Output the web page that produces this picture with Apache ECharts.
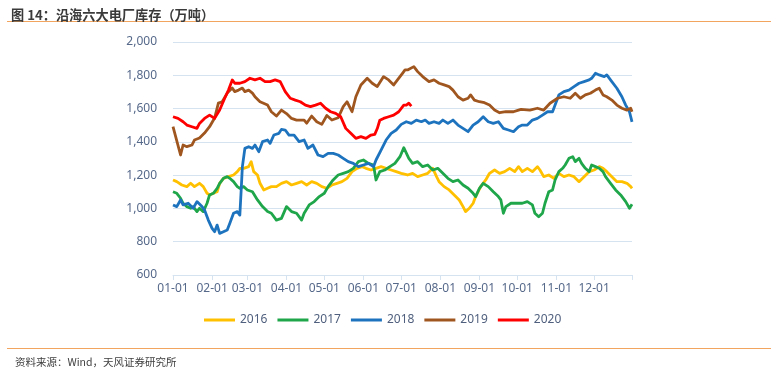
<!DOCTYPE html>
<html>
<head>
<meta charset="utf-8">
<script src="https://cdn.jsdelivr.net/npm/echarts@6/dist/echarts.min.js"></script>
<style>html,body{margin:0;padding:0;background:#fff;}#c{width:777px;height:371px;}</style>
</head>
<body>
<div id="c"></div>
<script>
// Y tick labels
const yTicks = [600, 800, 1000, 1200, 1400, 1600, 1800, 2000];
const years = ['2016', '2017', '2018', '2019', '2020'];

// day-of-year index (0 = 01-01) and value for each series
const days2016 = [0,3,7,11,14,17,21,24,27,29,32,35,37,40,44,48,51,53,56,60,62,64,67,69,72,75,78,82,86,90,94,98,102,106,110,114,118,122,126,130,134,138,142,146,150,153,157,161,165,169,173,177,181,186,190,194,198,202,206,209,211,215,219,223,227,230,232,235,238,240,244,248,251,255,259,263,267,271,274,277,281,285,289,291,294,298,302,306,310,314,318,322,326,330,334,338,341,344,348,352,356,360,363,364];
const vals2016 = [1171,1161,1141,1131,1151,1131,1151,1131,1091,1081,1091,1100,1151,1181,1191,1201,1221,1241,1241,1251,1281,1221,1201,1151,1111,1121,1131,1131,1151,1161,1141,1151,1161,1141,1161,1151,1131,1121,1141,1151,1161,1181,1221,1241,1251,1241,1231,1241,1251,1241,1231,1221,1211,1201,1211,1191,1201,1211,1241,1191,1161,1131,1111,1081,1051,1011,981,1001,1031,1071,1131,1171,1211,1231,1211,1221,1241,1221,1251,1221,1241,1221,1251,1231,1191,1201,1181,1211,1191,1201,1191,1161,1191,1221,1231,1251,1241,1221,1191,1161,1161,1151,1131,1121];

const days2017 = [0,3,6,8,11,14,16,19,21,24,27,29,32,35,37,40,43,45,48,51,53,56,59,63,67,71,75,78,82,86,90,94,98,102,104,108,112,116,120,123,127,131,135,139,143,147,151,155,159,161,164,168,172,176,180,183,187,190,194,198,202,206,210,214,218,222,226,230,234,238,240,243,246,250,254,258,260,262,264,268,272,277,281,285,287,290,293,295,298,301,303,306,309,311,314,317,319,322,324,327,330,332,335,338,341,343,347,351,355,359,362,364];
const vals2017 = [1100,1091,1061,1031,1011,1001,1011,981,1001,981,1031,1081,1091,1121,1151,1181,1191,1181,1161,1131,1121,1131,1111,1100,1051,1011,981,971,930,940,1011,981,971,930,971,1021,1041,1071,1091,1131,1171,1201,1211,1221,1241,1281,1291,1271,1261,1171,1221,1231,1251,1271,1311,1365,1301,1271,1281,1251,1261,1231,1241,1211,1181,1161,1171,1141,1121,1091,1071,1121,1151,1131,1100,1071,1051,971,1011,1031,1031,1031,1041,1021,971,950,971,1031,1100,1111,1171,1221,1241,1261,1301,1311,1281,1301,1271,1241,1221,1261,1251,1241,1221,1191,1151,1111,1081,1041,1001,1025];

const days2018 = [0,3,6,8,12,16,19,23,25,28,31,33,35,37,40,43,45,48,51,53,54,55,57,60,63,65,68,71,75,77,80,84,86,89,92,96,100,104,107,111,115,119,123,127,131,135,139,143,147,151,155,159,161,165,169,173,177,181,185,189,193,197,200,203,207,211,214,218,222,226,230,234,238,242,246,250,254,258,262,266,270,274,277,281,285,289,293,297,301,303,306,310,314,318,322,326,330,332,335,338,342,344,348,352,356,359,362,364];
const vals2018 = [1021,1011,1051,1021,1031,1001,1041,1011,991,930,880,860,900,850,860,870,910,971,981,960,1100,1250,1361,1371,1361,1381,1341,1401,1411,1391,1441,1451,1475,1471,1440,1441,1401,1411,1361,1381,1321,1311,1331,1331,1321,1301,1281,1271,1251,1261,1271,1251,1291,1351,1411,1451,1471,1505,1521,1511,1531,1521,1531,1511,1521,1511,1531,1511,1531,1501,1481,1461,1501,1521,1551,1521,1511,1521,1481,1471,1461,1491,1501,1501,1531,1541,1561,1581,1581,1621,1682,1702,1711,1732,1752,1762,1772,1782,1812,1802,1792,1802,1762,1722,1671,1621,1581,1520];

const days2019 = [0,6,8,11,15,17,21,25,29,33,36,39,43,47,49,52,55,57,60,63,65,69,75,78,82,86,90,94,98,104,106,110,114,118,122,126,131,135,138,142,145,149,154,158,162,167,171,175,180,182,184,186,191,194,198,203,207,211,215,219,222,226,230,234,236,239,243,247,251,255,259,264,270,274,276,283,289,294,299,305,310,315,319,323,327,331,335,338,341,344,348,352,356,360,363,364];
const vals2019 = [1491,1321,1381,1371,1381,1411,1423,1453,1491,1543,1633,1641,1693,1723,1702,1711,1723,1702,1711,1693,1671,1641,1621,1581,1555,1591,1570,1541,1531,1531,1512,1555,1521,1505,1558,1531,1545,1612,1641,1581,1671,1742,1782,1752,1732,1792,1772,1742,1792,1812,1832,1832,1852,1822,1792,1762,1772,1752,1742,1732,1711,1671,1651,1662,1682,1651,1641,1635,1621,1591,1575,1581,1581,1591,1595,1591,1602,1591,1632,1662,1671,1662,1692,1662,1682,1692,1711,1722,1682,1671,1651,1621,1602,1591,1602,1581];

const days2020 = [0,4,8,11,15,19,21,25,29,33,37,41,44,47,49,53,57,61,65,69,73,77,81,85,89,93,97,101,105,109,113,117,121,125,129,133,137,141,145,149,153,157,160,162,164,167,171,175,179,183,185,187,189];
const vals2020 = [1551,1541,1521,1501,1491,1481,1511,1541,1561,1541,1591,1662,1711,1772,1752,1752,1762,1782,1772,1782,1762,1762,1772,1762,1702,1662,1651,1641,1621,1612,1621,1632,1602,1581,1571,1551,1481,1451,1421,1431,1421,1441,1445,1480,1530,1541,1551,1561,1581,1621,1621,1632,1615];

const colors = ['#FFC000', '#1FA64A', '#1E73BE', '#A0561F', '#FF0000'];

// category axis: every day of a (non-leap) year as MM-DD
const categories = [];
(function () {
  const lens = [31,28,31,30,31,30,31,31,30,31,30,31];
  for (let m = 0; m < 12; m++) {
    for (let d = 1; d <= lens[m]; d++) {
      categories.push(String(m + 1).padStart(2, '0') + '-' + String(d).padStart(2, '0'));
    }
  }
})();

function pairs(ds, vs) { return ds.map((d, i) => [d, vs[i]]); }
const seriesData = [
  pairs(days2016, vals2016),
  pairs(days2017, vals2017),
  pairs(days2018, vals2018),
  pairs(days2019, vals2019),
  pairs(days2020, vals2020)
];

const chart = echarts.init(document.getElementById('c'), null, { renderer: 'canvas' });
const axisColor = '#D5E3F0';
const labelColor = '#56698A';
const font = '"Noto Sans", "Noto Sans CJK SC", sans-serif';

chart.setOption({
  animation: false,
  backgroundColor: '#fff',
  textStyle: { fontFamily: font },
  title: {
    text: '图 14：沿海六大电厂库存（万吨）',
    left: 6, top: 3,
    textStyle: { fontSize: 13.2, fontWeight: 'bold', color: '#3A3A3A', fontFamily: '"Noto Sans CJK SC", sans-serif' }
  },
  graphic: [
    { type: 'line', shape: { x1: 7, y1: 21.5, x2: 771, y2: 21.5 }, style: { stroke: '#F2A55F', lineWidth: 1.2 } },
    { type: 'line', shape: { x1: 7, y1: 348.5, x2: 771, y2: 348.5 }, style: { stroke: '#F2A55F', lineWidth: 1.2 } },
    { type: 'text', left: 15, top: 357, style: { text: '资料来源：Wind，天风证券研究所', fontSize: 10.5, fill: '#404040', fontFamily: '"Noto Sans CJK SC", sans-serif' } }
  ],
  grid: { left: 173, right: 145, top: 42, bottom: 96, containLabel: false },
  legend: {
    data: years,
    left: 204, top: 314,
    padding: 0,
    itemWidth: 31, itemHeight: 3, itemGap: 10,
    icon: 'rect',
    textStyle: { fontSize: 12, color: '#4F5F7D', fontFamily: font }
  },
  xAxis: {
    type: 'category',
    data: categories,
    boundaryGap: false,
    axisLine: { show: true, lineStyle: { color: axisColor, width: 1 } },
    axisTick: {
      show: true, length: 5,
      interval: (i, v) => v.endsWith('-01') || i === categories.length - 1,
      lineStyle: { color: axisColor }
    },
    axisLabel: {
      interval: (i, v) => v.endsWith('-01'),
      color: labelColor, fontSize: 12, margin: 8, fontFamily: font
    },
    splitLine: { show: false }
  },
  yAxis: {
    type: 'value',
    min: yTicks[0], max: yTicks[yTicks.length - 1], interval: 200,
    axisLine: { show: false },
    axisTick: { show: false },
    axisLabel: {
      color: labelColor, fontSize: 12, margin: 16, fontFamily: font,
      formatter: v => v.toLocaleString('en-US')
    },
    splitLine: { show: true, lineStyle: { color: axisColor, width: 1 } }
  },
  series: years.map((y, i) => ({
    name: y,
    type: 'line',
    data: seriesData[i],
    symbol: 'none',
    smooth: false,
    color: colors[i],
    lineStyle: { width: 2.8, color: colors[i], join: 'round' },
    z: 2 + i
  }))
});
</script>
</body>
</html>
